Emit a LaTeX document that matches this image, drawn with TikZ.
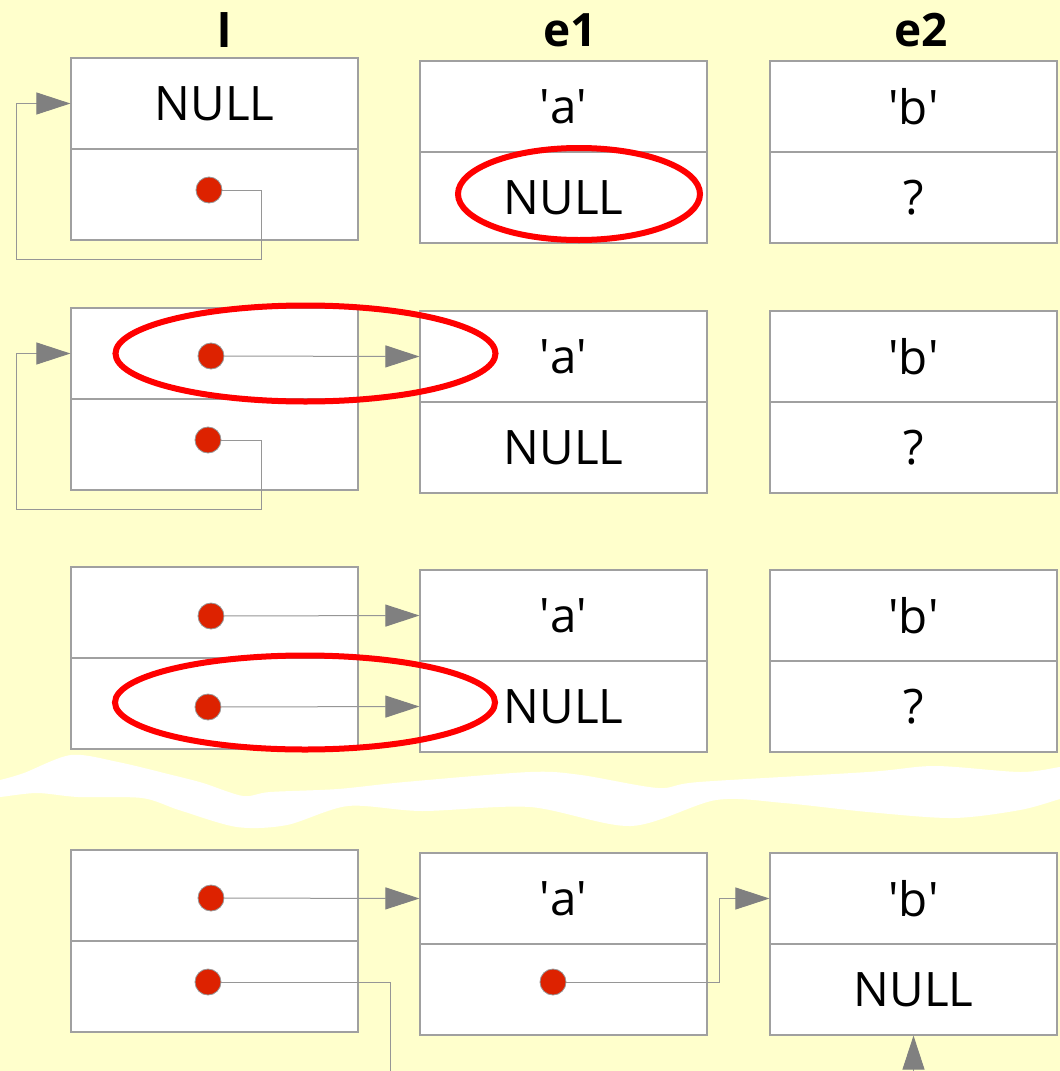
\documentclass[tikz,border=0pt]{standalone}
\usepackage{fontspec}
\setmainfont{Open Sans}
\usetikzlibrary{arrows.meta}
\definecolor{paper}{RGB}{255,255,204}
\definecolor{rim}{RGB}{160,160,160}
\definecolor{wire}{RGB}{150,150,150}
\definecolor{tipgray}{RGB}{128,128,128}
\definecolor{dotred}{RGB}{221,34,0}
\definecolor{ringred}{RGB}{255,0,0}
\tikzset{
    cell/.style={draw=rim,line width=1.2pt,fill=white,minimum width=287pt,minimum height=91pt,inner sep=0pt,font=\fontsize{47.5}{56}\selectfont},
    head/.style={anchor=base,font=\fontsize{46}{54}\selectfont\bfseries},
    ptr/.style={circle,fill=dotred,draw=wire,line width=0.8pt,minimum size=26pt,inner sep=0pt},
    link/.style={draw=wire,line width=1pt},
    linkto/.style={link,-{Triangle[length=34pt,width=22pt,color=tipgray]}},
    ring/.style={draw=ringred,line width=6pt},
    gap/.style={fill=white,draw=none}
}
\newcommand{\charval}[1]{\textquotesingle#1\textquotesingle}

\begin{document}
\begin{tikzpicture}[x=1pt,y=-1pt]
    % Paper
    \fill[paper] (0,0) rectangle (1060,1071);
    \useasboundingbox (0,0) rectangle (1060,1071);
    % Torn gap before the last row
    \fill[gap] plot[smooth] coordinates {(-10,781) (0,780) (24,773) (71,755) (118,762) (172,775) (203,783) (243,796) (270,792) (338,789) (405,782) (530,772) (581,775) (658,788) (699,782) (868,772) (935,766) (1020,772) (1060,767) (1070,766)}
        -- plot[smooth] coordinates {(1070,797) (1060,799) (1020,810) (953,818) (868,812) (784,803) (716,800) (631,826) (530,807) (422,811) (348,806) (287,825) (237,827) (179,810) (142,798) (78,797) (37,793) (0,797) (-10,797)} -- cycle;
    % Titles
    \node[head] (lname) at (225,47) {l};
    \node[head] (e1name) at (570,46) {e1};
    \node[head] (e2name) at (921,46) {e2};
    % Cells of l, e1 and e2, row by row
    \foreach \r/\ly/\ey/\ltxt/\atxt/\btxt in {1/58/61/NULL/NULL/?, 2/308/311//NULL/?, 3/567/570//NULL/?, 4/850/853///NULL} {
        \node[cell] (lt\r) at (214.5,\ly+45.5) {\ltxt};
        \node[cell] (lb\r) at (214.5,\ly+136.5) {};
        \node[cell] (at\r) at (563.5,\ey+45.5) {\charval{a}};
        \node[cell] (ab\r) at (563.5,\ey+136.5) {\atxt};
        \node[cell] (bt\r) at (913.5,\ey+45.5) {\charval{b}};
        \node[cell] (bb\r) at (913.5,\ey+136.5) {\btxt};
    }
    % Pointers
    \node[ptr] (p1b) at (209,190) {};
    \node[ptr] (p2t) at (211,356) {};
    \node[ptr] (p2b) at (208,440) {};
    \node[ptr] (p3t) at (211,616) {};
    \node[ptr] (p3b) at (208,707) {};
    \node[ptr] (p4t) at (211,898) {};
    \node[ptr] (p4b) at (208,982) {};
    \node[ptr] (p4a) at (553,982) {};
    % Row 1
    \coordinate (k1a) at (261,259);
    \coordinate (k1b) at (16,259);
    \draw[linkto] (p1b) -| (k1a) -- (k1b) |- (lt1.west);
    % Row 2
    \coordinate (k2a) at (261,509);
    \coordinate (k2b) at (16,509);
    \draw[linkto] (p2t) -- (at2.west);
    \draw[linkto] (p2b) -| (k2a) -- (k2b) |- (lt2.west);
    % Row 3
    \draw[linkto] (p3t) -- (at3.west);
    \draw[linkto] (p3b) -- (ab3.west);
    % Row 4
    \coordinate (k4a) at (390,1071);
    \coordinate (k4b) at (913.5,1071);
    \draw[linkto] (p4t) -- (at4.west);
    \draw[link] (p4b) -| (k4a);
    \draw[linkto] (p4a) -| ([xshift=-50pt]bt4.west) -- (bt4.west);
    \draw[linkto] (k4b) -- (bb4.south);
    % Highlights
    \draw[ring] (579,194) ellipse [x radius=121pt, y radius=46pt];
    \draw[ring] (305.5,353.5) ellipse [x radius=190pt, y radius=48pt];
    \draw[ring] (305,702.5) ellipse [x radius=190pt, y radius=47pt];
\end{tikzpicture}
\end{document}
